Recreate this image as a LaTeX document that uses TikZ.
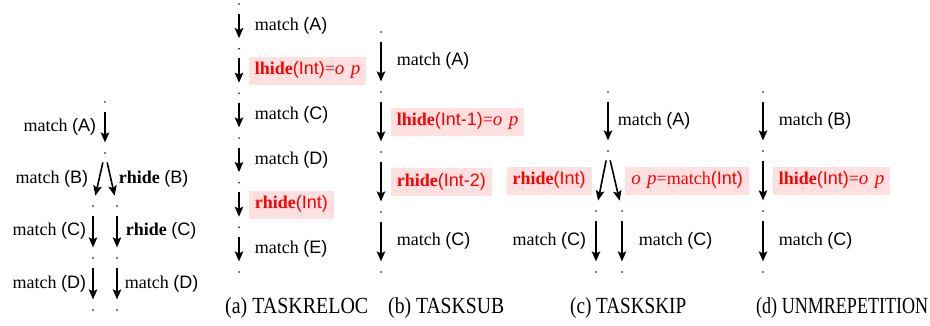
\documentclass[tikz,border=0pt]{standalone}
\usepackage{fontspec}
\setmainfont{Liberation Serif}
\newfontfamily\hvfont{Liberation Sans}
\usetikzlibrary{arrows.meta}
\newcommand{\hp}[1]{{\hvfont(#1)}}
\newcommand{\oppart}{{\fontsize{19}{20}\selectfont\itshape o\,\,p}}
\newcommand{\capt}[3]{\resizebox{#1}{16pt}{\fontsize{22}{26}\selectfont(#2) #3}}

\begin{document}
\begin{tikzpicture}[x=1pt,y=-1pt,>={Stealth[length=10pt,width=8.5pt,inset=2pt]},
		font=\fontsize{18}{21}\selectfont]
		\tikzstyle{pdot}=[circle,fill,inner sep=0pt,minimum size=1.8pt];
		\tikzstyle{flow}=[->,line width=1.6pt,shorten <=8.5pt,shorten >=9.5pt];
		\tikzstyle{lbl}=[inner sep=6pt,text height=12pt,text depth=4pt];
		\tikzstyle{hl}=[lbl,fill=red!12,text=red];
		\tikzstyle{capnode}=[inner sep=0pt,anchor=base west];
		\useasboundingbox (0,0) rectangle (930,326);

		% left: branching run
		\node[pdot](l0) at (105,102){};
		\node[pdot](l1) at (105,153){};
		\node[pdot](l2) at (93,206){};
		\node[pdot](l3) at (117,206){};
		\node[pdot](l4) at (93,258){};
		\node[pdot](l5) at (117,258){};
		\node[pdot](l6) at (93,310){};
		\node[pdot](l7) at (117,310){};
		\draw[flow](l0)--node[lbl,left=2pt](lA){match \hp{A}}(l1);
		\draw[flow](l1)--node[lbl,left=4pt](lB){match \hp{B}}(l2);
		\draw[flow](l1)--node[lbl,right=1pt](lrB){\textbf{rhide} \hp{B}}(l3);
		\draw[flow](l2)--node[lbl,left=0pt](lC){match \hp{C}}(l4);
		\draw[flow](l3)--node[lbl,right=2pt](lrC){\textbf{rhide} \hp{C}}(l5);
		\draw[flow](l4)--node[lbl,left=0pt](lD){match \hp{D}}(l6);
		\draw[flow](l5)--node[lbl,right=1pt](lrD){match \hp{D}}(l7);

		% (a)
		\node[pdot](a0) at (239,4){};
		\node[pdot](a1) at (239,48.7){};
		\node[pdot](a2) at (239,93.3){};
		\node[pdot](a3) at (239,138){};
		\node[pdot](a4) at (239,182.7){};
		\node[pdot](a5) at (239,227.3){};
		\node[pdot](a6) at (239,272){};
		\draw[flow](a0)--node[lbl,right=9pt](aA){match \hp{A}}(a1);
		\draw[flow](a1)--node[hl,right=9pt](aL){\textbf{lhide}{\hvfont(Int)}=\oppart}(a2);
		\draw[flow](a2)--node[lbl,right=9pt](aC){match \hp{C}}(a3);
		\draw[flow](a3)--node[lbl,right=9pt](aD){match \hp{D}}(a4);
		\draw[flow](a4)--node[hl,right=9pt](aR){\textbf{rhide}{\hvfont(Int)}}(a5);
		\draw[flow](a5)--node[lbl,right=9pt](aE){match \hp{E}}(a6);

		% (b)
		\node[pdot](b0) at (381,32){};
		\node[pdot](b1) at (381,92){};
		\node[pdot](b2) at (381,152){};
		\node[pdot](b3) at (381,212){};
		\node[pdot](b4) at (381,272){};
		\draw[flow](b0)--node[lbl,right=9pt](bA){match \hp{A}}(b1);
		\draw[flow](b1)--node[hl,right=9pt](bL){\textbf{lhide}{\hvfont(Int-1)}=\oppart}(b2);
		\draw[flow](b2)--node[hl,right=9pt](bR){\textbf{rhide}{\hvfont(Int-2)}}(b3);
		\draw[flow](b3)--node[lbl,right=9pt](bC){match \hp{C}}(b4);

		% (c)
		\node[pdot](c0) at (608,92){};
		\node[pdot](c1) at (608,151){};
		\node[pdot](c2) at (596,211){};
		\node[pdot](c3) at (622,211){};
		\node[pdot](c4) at (596,272){};
		\node[pdot](c5) at (622,272){};
		\draw[flow](c0)--node[lbl,right=3pt](cA){match \hp{A}}(c1);
		\draw[flow](c1)--node[hl,left=9.5pt](cR){\textbf{rhide}{\hvfont(Int)}}(c2);
		\draw[flow](c1)--node[hl,right=9.5pt](cM){\oppart=match{\hvfont(Int)}}(c3);
		\draw[flow](c2)--node[lbl,left=3pt](cC){match \hp{C}}(c4);
		\draw[flow](c3)--node[lbl,right=10pt](cC2){match \hp{C}}(c5);

		% (d)
		\node[pdot](d0) at (763,92){};
		\node[pdot](d1) at (763,151){};
		\node[pdot](d2) at (763,211){};
		\node[pdot](d3) at (763,272){};
		\draw[flow](d0)--node[lbl,right=9pt](dB){match \hp{B}}(d1);
		\draw[flow](d1)--node[hl,right=9pt](dL){\textbf{lhide}{\hvfont(Int)}=\oppart}(d2);
		\draw[flow](d2)--node[lbl,right=9pt](dC){match \hp{C}}(d3);

		% captions
		\node[capnode](capa) at (225,313){\capt{143pt}{a}{TASKRELOC}};
		\node[capnode](capb) at (388,313){\capt{116pt}{b}{TASKSUB}};
		\node[capnode](capc) at (570,313){\capt{116pt}{c}{TASKSKIP}};
		\node[capnode](capd) at (756,313){\capt{172pt}{d}{UNMREPETITION}};
	\end{tikzpicture}
\end{document}
